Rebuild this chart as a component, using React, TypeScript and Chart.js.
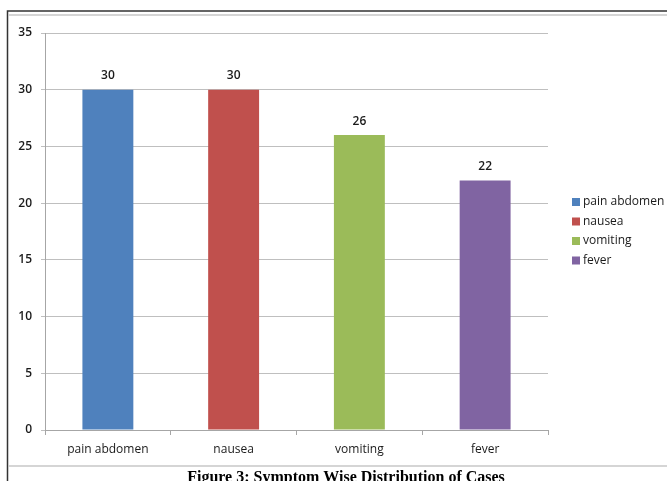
import React, { useEffect, useRef } from "react";
import { Chart, registerables } from "chart.js";

Chart.register(...registerables);

const categories = ["pain abdomen", "nausea", "vomiting", "fever"];
const values = [30, 30, 26, 22];
const colors = ["#4f81bd", "#c0504d", "#9bbb59", "#8064a2"];
const yTicks = [0, 5, 10, 15, 20, 25, 30, 35];
const caption = "Figure 3: Symptom Wise Distribution of Cases";

const FONT = "'Open Sans', 'Noto Sans', sans-serif";

const decorPlugin = {
  id: "decor",
  beforeDraw(chart: any) {
    const ctx = chart.ctx;
    ctx.save();
    ctx.fillStyle = "#ffffff";
    ctx.fillRect(0, 0, chart.width, chart.height);
    // outer dark frame
    ctx.strokeStyle = "#333333";
    ctx.lineWidth = 1.5;
    ctx.beginPath();
    ctx.moveTo(667, 11);
    ctx.lineTo(7.5, 11);
    ctx.lineTo(7.5, 481);
    ctx.stroke();
    // chart light border
    ctx.strokeStyle = "#c8c8c8";
    ctx.lineWidth = 1.5;
    ctx.beginPath();
    ctx.moveTo(8, 15);
    ctx.lineTo(667, 15);
    ctx.moveTo(8, 466);
    ctx.lineTo(667, 466);
    ctx.stroke();
    ctx.restore();
  },
  afterDraw(chart: any) {
    const ctx = chart.ctx;
    ctx.save();
    // data labels
    const meta = chart.getDatasetMeta(0);
    ctx.font = `600 12px ${FONT}`;
    ctx.fillStyle = "#1a1a1a";
    ctx.textAlign = "center";
    ctx.textBaseline = "middle";
    meta.data.forEach((bar: any, i: number) => {
      ctx.fillText(String(values[i]), bar.x, bar.y - 14);
    });
    // legend
    const lx = 572;
    const ly = 202;
    const step = 19.5;
    ctx.textAlign = "left";
    ctx.font = `12px ${FONT}`;
    categories.forEach((c, i) => {
      const y = ly + i * step;
      ctx.fillStyle = colors[i];
      ctx.fillRect(lx, y - 4, 8, 8);
      ctx.fillStyle = "#1a1a1a";
      ctx.fillText(c, lx + 11, y);
    });
    // caption
    ctx.font = "bold 16px 'Liberation Serif', 'DejaVu Serif', serif";
    ctx.fillStyle = "#000000";
    ctx.textAlign = "center";
    ctx.textBaseline = "alphabetic";
    ctx.fillText(caption, 346, 482);
    ctx.restore();
  },
};

export default function App() {
  const ref = useRef<HTMLCanvasElement>(null);
  useEffect(() => {
    if (!ref.current) return;
    const chart = new Chart(ref.current, {
      type: "bar",
      data: {
        labels: categories,
        datasets: [
          {
            data: values,
            backgroundColor: colors,
            barPercentage: 0.405,
            categoryPercentage: 1,
          },
        ],
      },
      options: {
        animation: false,
        responsive: false,
        devicePixelRatio: 1,
        layout: { padding: { left: 8, top: 33, right: 119, bottom: 15 } },
        plugins: { legend: { display: false }, tooltip: { enabled: false } },
        scales: {
          x: {
            offset: true,
            grid: {
              display: true,
              drawOnChartArea: false,
              drawTicks: true,
              tickLength: 5,
              color: "#a6a6a6",
              offset: true,
            },
            border: { color: "#a6a6a6", width: 1 },
            ticks: { color: "#1a1a1a", font: { family: FONT, size: 12 }, padding: 7 },
            afterFit(scale: any) {
              scale.height = 36;
            },
          },
          y: {
            min: 0,
            max: 35,
            afterBuildTicks(scale: any) {
              scale.ticks = yTicks.map((v) => ({ value: v }));
            },
            grid: { color: "#bfbfbf", lineWidth: 1, tickLength: 4 },
            border: { color: "#a6a6a6", width: 1 },
            ticks: { color: "#1a1a1a", font: { family: FONT, size: 12, weight: "600" }, padding: 9 },
            afterFit(scale: any) {
              scale.width = 37;
            },
          },
        },
      },
      plugins: [decorPlugin],
    });
    return () => chart.destroy();
  }, []);
  return (
    <div style={{ position: "fixed", left: 0, top: 0, width: 667, height: 481, background: "#fff" }}>
      <canvas ref={ref} width={667} height={481} style={{ display: "block" }} />
    </div>
  );
}
